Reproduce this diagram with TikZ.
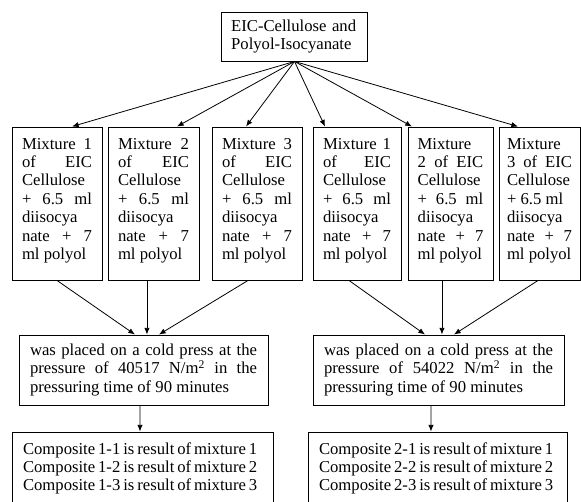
\documentclass[tikz,border=0pt]{standalone}
\usepackage{fontspec}
\setmainfont{Liberation Serif}
\usepackage{tikz}
\usetikzlibrary{arrows.meta}

\begin{document}
\begin{tikzpicture}[x = 0.75pt, y = -0.75pt,
        box/.style = {draw = black, line width = 0.7pt, font = \fontsize{12.5}{13.8}\selectfont, inner xsep = 7.5pt, inner ysep = 0pt},
        mixbox/.style = {box, align = justify, text width = #1, minimum height = 114.75pt},
        pressbox/.style = {box, align = justify, text width = #1, minimum height = 52.5pt, inner xsep = 8.25pt},
        compbox/.style = {box, align = left, text width = #1, minimum height = 60pt, inner xsep = 8.25pt, font = \fontsize{12.5}{13.5}\selectfont, execute at begin node = {\spaceskip = 2.2pt\relax}},
        link/.style = {-{Latex[length = 5pt, width = 4pt]}, line width = 0.6pt}]

        \useasboundingbox (0, 0) rectangle (581, 502);

        \node (top) [box, align = left, text width = 95pt, minimum height = 36.75pt] at (294.5, 36.5) {EIC-Cellulose and\\Polyol-Isocyanate};

        \node (m1) [mixbox = 52.5pt] at (57, 203.5) {Mixture 1\linebreak of EIC\linebreak Cellulose\newline + 6.5 ml\linebreak diisocya\newline nate + 7\linebreak ml polyol\rule[-7pt]{0pt}{7pt}};
        \node (m2) [mixbox = 53.25pt] at (153.5, 203.5) {Mixture 2\linebreak of EIC\linebreak Cellulose\newline + 6.5 ml\linebreak diisocya\newline nate + 7\linebreak ml polyol\rule[-7pt]{0pt}{7pt}};
        \node (m3) [mixbox = 52.5pt] at (257, 203.5) {Mixture 3\linebreak of EIC\linebreak Cellulose\newline + 6.5 ml\linebreak diisocya\newline nate + 7\linebreak ml polyol\rule[-7pt]{0pt}{7pt}};
        \node (m4) [mixbox = 51pt] at (357, 203.5) {Mixture 1\linebreak of EIC\linebreak Cellulose\newline + 6.5 ml\linebreak diisocya\newline nate + 7\linebreak ml polyol\rule[-7pt]{0pt}{7pt}};
        \node (m5) [mixbox = 49.25pt, inner xsep = 7.25pt] at (450.5, 203.5) {Mixture\newline 2 of EIC\linebreak Cellulose\newline + 6.5 ml\linebreak diisocya\newline nate + 7\linebreak ml polyol\rule[-7pt]{0pt}{7pt}};
        \node (m6) [mixbox = 48.75pt, inner xsep = 6pt] at (539.5, 203.5) {Mixture\newline 3 of EIC\linebreak Cellulose\newline + 6.5 ml\newline diisocya\newline nate + 7\linebreak ml polyol\rule[-7pt]{0pt}{7pt}};

        \node (p1) [pressbox = 170.25pt] at (143.5, 370) {was placed on a cold press at the\linebreak pressure of 40517 N/m\textsuperscript{2} in the\linebreak pressuring time of 90 minutes};
        \node (p2) [pressbox = 171.75pt] at (438.5, 370) {was placed on a cold press at the\linebreak pressure of 54022 N/m\textsuperscript{2} in the\linebreak pressuring time of 90 minutes};

        \node (c1) [compbox = 179.25pt] at (142.5, 472) {Composite 1-1 is result of mixture 1\\Composite 1-2 is result of mixture 2\\Composite 1-3 is result of mixture 3\rule[-8.5pt]{0pt}{8.5pt}};
        \node (c2) [compbox = 177.75pt] at (437.5, 472) {Composite 2-1 is result of mixture 1\\Composite 2-2 is result of mixture 2\\Composite 2-3 is result of mixture 3\rule[-8.5pt]{0pt}{8.5pt}};

        \foreach \m/\s in {m1/11.25pt, m2/17.6pt, m3/-8.25pt, m4/-24pt, m5/-28.9pt, m6/-16.1pt}
        {
            \draw [link] (top.south) -- ([xshift = \s]\m.north);
        }

        \foreach \m/\a/\p/\b in {m1/0pt/p1/-6.4pt, m2/-4.9pt/p1/2.6pt, m3/-6.75pt/p1/11.6pt, m4/-6pt/p2/-10.1pt, m5/-6.4pt/p2/2.6pt, m6/-1.1pt/p2/11.6pt}
        {
            \draw [link] ([xshift = \a]\m.south) -- ([xshift = \b]\p.north);
        }

        \draw [link] ([xshift = -2.6pt]p1.south) -- ([xshift = -1.9pt]c1.north);
        \draw [link] ([xshift = -5.6pt]p2.south) -- ([xshift = -4.9pt]c2.north);
    \end{tikzpicture}
\end{document}
